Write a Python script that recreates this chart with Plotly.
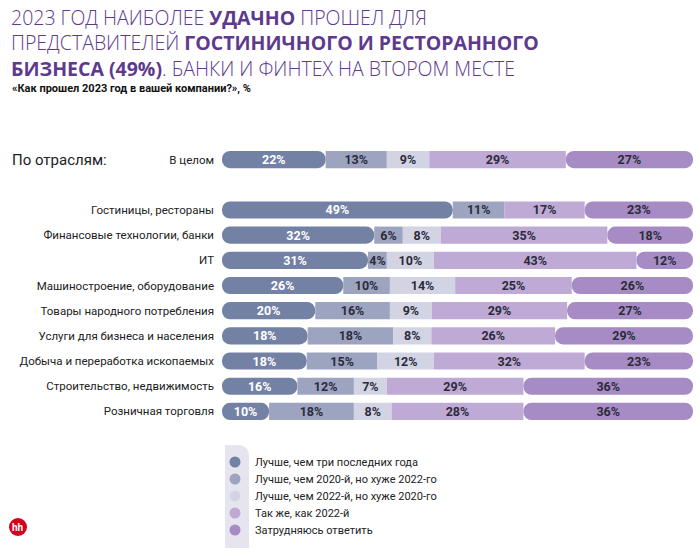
import plotly.graph_objects as go

# ---------------- data ----------------
categories = [
    "В целом",
    "Гостиницы, рестораны",
    "Финансовые технологии, банки",
    "ИТ",
    "Машиностроение, оборудование",
    "Товары народного потребления",
    "Услуги для бизнеса и населения",
    "Добыча и переработка ископаемых",
    "Строительство, недвижимость",
    "Розничная торговля",
]
row_index = [0, 2, 3, 4, 5, 6, 7, 8, 9, 10]

series_names = [
    "Лучше, чем три последних года",
    "Лучше, чем 2020-й, но хуже 2022-го",
    "Лучше, чем 2022-й, но хуже 2020-го",
    "Так же, как 2022-й",
    "Затрудняюсь ответить",
]
better_three = [22, 49, 32, 31, 26, 20, 18, 18, 16, 10]
better_2020 = [13, 11, 6, 4, 10, 16, 18, 15, 12, 18]
better_2022 = [9, 0, 8, 10, 14, 9, 8, 12, 7, 8]
same_2022 = [29, 17, 35, 43, 25, 29, 26, 32, 29, 28]
hard_to_say = [27, 23, 18, 12, 26, 27, 29, 23, 36, 36]
series_values = [better_three, better_2020, better_2022, same_2022, hard_to_say]

colors = ["#7381a5", "#9da4c0", "#d2d4e3", "#bfaad5", "#a78bc4"]
text_colors = ["#ffffff", "#2b2b3b", "#2b2b3b", "#2b2b3b", "#2b2b3b"]

# ---------------- layout geometry ----------------
W, H = 700, 556
L, R, T, B = 222, 7, 147, 132
PW, PH = W - L - R, H - T - B


def fx(px):
    return (px - L) / PW


def fy(py):
    return (H - B - py) / PH


# normalised shares per row
totals = [sum(s[i] for s in series_values) for i in range(len(categories))]
shares = [[v / t * 100 for v, t in zip(s, totals)] for s in series_values]

fig = go.Figure()
cum = [0.0] * len(categories)
n = len(series_values)
for k, (name, vals, shr) in enumerate(zip(series_names, series_values, shares)):
    txt = [f"{v}%" if v else "" for v in vals]
    if k == 0:
        base = [c + s for c, s in zip(cum, shr)]
        xs = [-s for s in shr]
        cr = "50%"
    else:
        base = list(cum)
        xs = list(shr)
        cr = "50%" if k == n - 1 else 0
    fig.add_trace(go.Bar(
        y=row_index, x=xs, base=base, orientation="h", name=name,
        marker=dict(color=colors[k], line=dict(width=0), cornerradius=cr),
        text=txt, textposition="inside", insidetextanchor="middle",
        textangle=0,
        textfont=dict(family="Roboto", size=12.5, color=text_colors[k], weight="bold"),
        hoverinfo="skip", showlegend=False,
    ))
    cum = [c + s for c, s in zip(cum, shr)]

fig.update_layout(
    width=W, height=H,
    margin=dict(l=L, r=R, t=T, b=B, pad=0),
    barmode="overlay", bargap=0.32,
    plot_bgcolor="white", paper_bgcolor="white",
    uniformtext=dict(minsize=12, mode="show"),
    font=dict(family="Roboto", color="#222222"),
    xaxis=dict(range=[0, 100], visible=False, fixedrange=True),
    yaxis=dict(
        range=[10.5, -0.5], tickvals=row_index, ticktext=categories,
        showgrid=False, zeroline=False, showline=False, ticks="",
        ticklabelstandoff=7, automargin=False,
        tickfont=dict(family="Roboto", size=11.5, color="#222222"),
    ),
)

annotations = []
shapes = []

# title (one multi-line text block)
title_text = ("2023 ГОД НАИБОЛЕЕ <b>УДАЧНО</b> ПРОШЕЛ ДЛЯ<br>"
              "ПРЕДСТАВИТЕЛЕЙ <b>ГОСТИНИЧНОГО И РЕСТОРАННОГО</b><br>"
              "<b>БИЗНЕСА (49%)</b>. БАНКИ И ФИНТЕХ НА ВТОРОМ МЕСТЕ")
annotations.append(dict(
    text=title_text, xref="paper", yref="paper", x=fx(9), y=fy(43),
    xanchor="left", yanchor="middle", align="left", showarrow=False,
    font=dict(family="Open Sans", size=19.5, color="#5d3a8e", weight=300),
))

annotations.append(dict(
    text="<b>«Как прошел 2023 год в вашей компании?», %</b>",
    xref="paper", yref="paper", x=fx(10), y=fy(89),
    xanchor="left", yanchor="middle", showarrow=False,
    font=dict(family="Roboto", size=11, color="#111111"),
))

annotations.append(dict(
    text="По отраслям:", xref="paper", yref="paper", x=fx(10), y=fy(160),
    xanchor="left", yanchor="middle", showarrow=False,
    font=dict(family="Roboto", size=15, color="#222222"),
))

# legend background with rounded top-right corner
x0, x1, y0, y1, rr = 225, 249, 445, 548, 12
path = (f"M {fx(x0)},{fy(y1)} L {fx(x0)},{fy(y0)} L {fx(x1 - rr)},{fy(y0)} "
        f"Q {fx(x1)},{fy(y0)} {fx(x1)},{fy(y0 + rr)} L {fx(x1)},{fy(y1)} Z")
shapes.append(dict(type="path", xref="paper", yref="paper", path=path,
                   fillcolor="#e6e5ef", line=dict(width=0), layer="below"))

leg_y = [462, 479, 496, 513, 530]
for name, col, ly in zip(series_names, colors, leg_y):
    shapes.append(dict(type="circle", xref="paper", yref="paper",
                       x0=fx(229.5), x1=fx(240.5), y0=fy(ly + 5.5), y1=fy(ly - 5.5),
                       fillcolor=col, line=dict(width=0)))
    annotations.append(dict(
        text=name, xref="paper", yref="paper", x=fx(253), y=fy(ly),
        xanchor="left", yanchor="middle", showarrow=False,
        font=dict(family="Roboto", size=11, color="#222222"),
    ))

# hh logo
shapes.append(dict(type="circle", xref="paper", yref="paper",
                   x0=fx(9), x1=fx(27), y0=fy(536), y1=fy(518),
                   fillcolor="#d6001c", line=dict(width=0)))
annotations.append(dict(
    text="<b>hh</b>", xref="paper", yref="paper", x=fx(18), y=fy(527),
    xanchor="center", yanchor="middle", showarrow=False,
    font=dict(family="Roboto", size=10, color="#ffffff"),
))

fig.update_layout(annotations=annotations, shapes=shapes)
fig.write_html("out.html")
